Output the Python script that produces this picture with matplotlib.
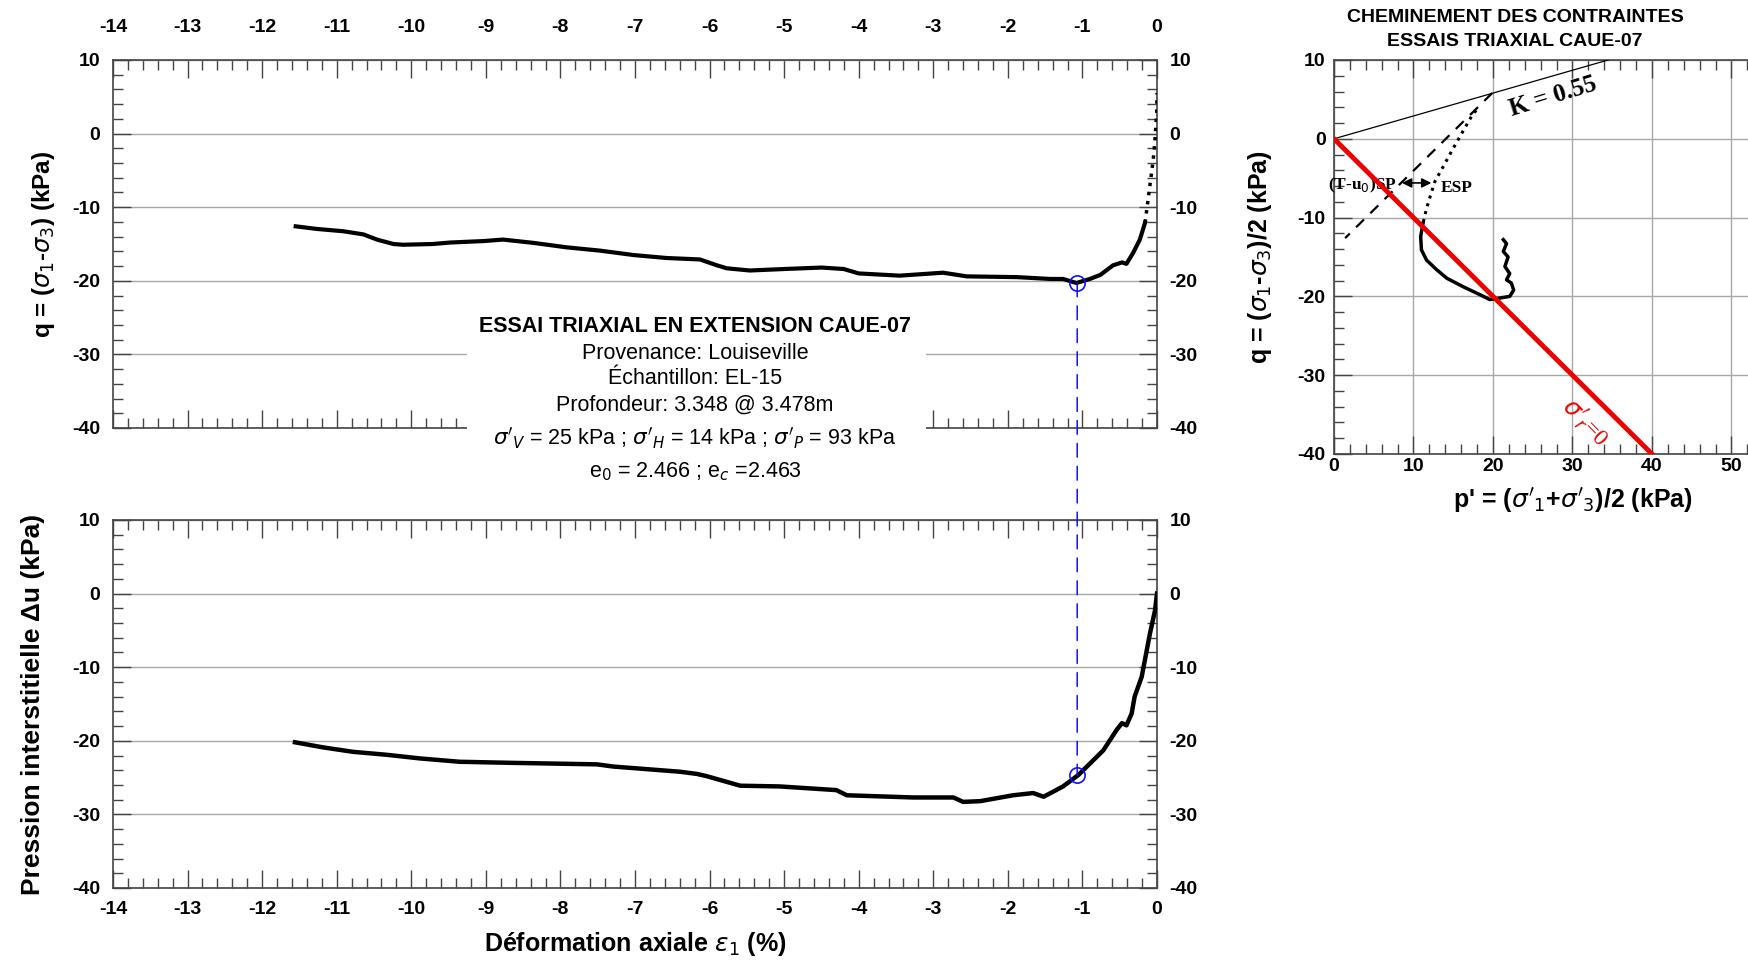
import matplotlib
matplotlib.use("Agg")
import matplotlib.pyplot as plt
from matplotlib.ticker import MultipleLocator, FixedLocator
from matplotlib.patches import ConnectionPatch, Rectangle

plt.rcParams["font.family"] = "Liberation Sans"
plt.rcParams["axes.unicode_minus"] = False

# essai triaxial - deviateur vs deformation
strain_q = [-11.55, -11.27, -10.91, -10.64, -10.46, -10.24, -10.11, -9.71, -9.48, -9.03,
            -8.77, -8.36, -7.92, -7.47, -7.02, -6.58, -6.13, -5.9, -5.77, -5.46,
            -5.0, -4.5, -4.2, -4.0, -3.45, -2.87, -2.55, -1.88, -1.43, -1.26,
            -1.08, -0.90, -0.76, -0.59, -0.47, -0.41, -0.32, -0.23, -0.16]
q_vals = [-12.6, -12.95, -13.27, -13.7, -14.4, -15.0, -15.1, -15.0, -14.8, -14.6,
          -14.4, -14.85, -15.45, -15.9, -16.5, -16.9, -17.1, -17.9, -18.3, -18.6,
          -18.4, -18.2, -18.4, -19.0, -19.3, -18.9, -19.4, -19.5, -19.75, -19.75,
          -20.3, -19.75, -19.2, -17.9, -17.5, -17.7, -16.2, -14.4, -12.1]
strain_q_start = [-0.16, -0.12, -0.085, -0.05, -0.027, -0.004, 0.0]
q_start = [-12.1, -9.0, -6.25, -3.5, -0.8, 2.8, 5.5]

# pression interstitielle
strain_u = [-11.56, -11.18, -10.78, -10.33, -9.88, -9.35, -8.63, -7.51, -7.29, -6.40,
            -6.17, -6.04, -5.59, -5.06, -4.30, -4.16, -3.27, -2.73, -2.60, -2.37,
            -1.93, -1.66, -1.52, -1.26, -1.055, -0.72, -0.54, -0.47, -0.41, -0.34,
            -0.30, -0.205, -0.094, -0.027, 0.0]
u_vals = [-20.2, -20.9, -21.5, -21.9, -22.4, -22.85, -23.0, -23.2, -23.5, -24.2,
          -24.5, -24.8, -26.1, -26.2, -26.7, -27.4, -27.7, -27.7, -28.3, -28.2,
          -27.4, -27.1, -27.6, -26.2, -24.65, -21.3, -18.5, -17.6, -17.9, -16.3,
          -14.0, -11.3, -5.4, -2.3, 0.0]

peak_strain = -1.07
peak_q = -20.3
peak_u = -24.7

# cheminement des contraintes
tsp_p = [19.9, 1.4]
tsp_q = [5.8, -12.6]
esp_dot_p = [17.9, 17.5, 16.3, 15.0, 13.75, 12.7, 12.1, 11.6, 11.2]
esp_dot_q = [3.6, 3.2, 1.1, -1.2, -3.5, -5.4, -7.3, -9.0, -10.7]
esp_p = [11.2, 10.9, 11.0, 11.65, 12.9, 14.2, 16.3, 18.4, 19.6, 20.9,
         22.1, 22.6, 22.3, 21.7, 22.1, 21.5, 21.9, 21.3, 21.7, 21.3]
esp_q = [-10.7, -12.4, -14.1, -15.4, -16.6, -17.7, -18.8, -19.8, -20.4, -20.2,
         -20.0, -19.2, -18.3, -17.9, -17.1, -16.2, -15.0, -14.3, -13.3, -12.8]
k0_p = [0, 40]
k0_q = [0, 11.6]
rupt_p = [0, 40]
rupt_q = [0, -40]
p_ticks = [0, 10, 20, 30, 40, 50]

W, H = 1749, 969
fig = plt.figure(figsize=(W / 100, H / 100), dpi=100)


def box(left, top, width, height):
    return [left / W, (H - top - height) / H, width / W, height / H]


def style_axes(ax, xmaj, xmin, ymaj, ymin):
    ax.xaxis.set_major_locator(MultipleLocator(xmaj))
    ax.xaxis.set_minor_locator(MultipleLocator(xmin))
    ax.yaxis.set_major_locator(MultipleLocator(ymaj))
    ax.yaxis.set_minor_locator(MultipleLocator(ymin))
    ax.tick_params(which="both", direction="in", top=True, right=True, width=1.0,
                   color="#444444", labelsize=14)
    ax.tick_params(which="major", length=13)
    ax.tick_params(which="minor", length=7)
    ax.grid(True, axis="y", which="major", color="#a8a8a8", lw=1)
    for s in ax.spines.values():
        s.set_color("#444444")
        s.set_linewidth(1.2)


def bold_ticks(ax):
    for t in ax.xaxis.get_major_ticks() + ax.yaxis.get_major_ticks():
        t.label1.set_fontweight("bold")
        t.label2.set_fontweight("bold")


# haut
ax1 = fig.add_axes(box(113, 60, 1044, 368))
ax1.plot(strain_q, q_vals, color="black", lw=3, zorder=3)
ax1.plot(strain_q_start, q_start, color="black", lw=2.5, ls=":", zorder=3)
ax1.set_xlim(-14, 0)
ax1.set_ylim(-40, 10)
style_axes(ax1, 1, 0.2, 10, 2)
ax1.tick_params(axis="x", which="both", labeltop=True, labelbottom=False, pad=17)
ax1.tick_params(axis="y", which="both", labelright=True, pad=9)
ax1.set_ylabel(r"q = ($\sigma_1$-$\sigma_3$) (kPa)", fontsize=17.5, fontweight="bold", labelpad=11)
ax1.plot(peak_strain, peak_q, "o", mfc="none", mec="#1010ff", ms=11, mew=1.2, zorder=4)
bold_ticks(ax1)

# bas
ax2 = fig.add_axes(box(113, 520, 1044, 368))
ax2.plot(strain_u, u_vals, color="black", lw=3.2, zorder=3)
ax2.set_xlim(-14, 0)
ax2.set_ylim(-40, 10)
style_axes(ax2, 1, 0.2, 10, 2)
ax2.tick_params(axis="x", which="both", pad=9)
ax2.tick_params(axis="y", which="both", labelright=True, pad=9)
ax2.set_ylabel("Pression interstitielle Δu (kPa)", fontsize=19, fontweight="bold", labelpad=20)
ax2.set_xlabel(r"Déformation axiale $\varepsilon_1$ (%)", fontsize=18, fontweight="bold", labelpad=9)
ax2.plot(peak_strain, peak_u, "o", mfc="none", mec="#1010ff", ms=11, mew=1.2, zorder=4)
bold_ticks(ax2)

con = ConnectionPatch(xyA=(peak_strain, peak_q), coordsA=ax1.transData,
                      xyB=(peak_strain, peak_u), coordsB=ax2.transData,
                      color="#1010ff", lw=1.1, linestyle=(0, (9, 6)))
fig.add_artist(con)

# cadre du texte
fig.add_artist(Rectangle((467 / W, (H - 495) / H), 459 / W, 190 / H,
                         transform=fig.transFigure, facecolor="white", edgecolor="none", zorder=5))
cx = 695 / W
fig.text(cx, 1 - 327 / H, "ESSAI TRIAXIAL EN EXTENSION CAUE-07", ha="center", va="center",
         fontsize=15.5, fontweight="bold", zorder=6)
info = ["Provenance: Louiseville", "Échantillon: EL-15", "Profondeur: 3.348 @ 3.478m",
        r"$\sigma'_V$ = 25 kPa ; $\sigma'_H$ = 14 kPa ; $\sigma'_P$ = 93 kPa",
        r"e$_0$ = 2.466 ; e$_c$ =2.463"]
for txt, yy in zip(info, [353, 378, 405, 438, 472]):
    fig.text(cx, 1 - yy / H, txt, ha="center", va="center", fontsize=15.5, zorder=6)

# cheminement
ax3 = fig.add_axes(box(1334, 60, 477, 394))
ax3.set_xlim(0, 60)
ax3.set_ylim(-40, 10)
style_axes(ax3, 10, 2, 10, 2)
ax3.xaxis.set_major_locator(FixedLocator(p_ticks))
ax3.grid(True, axis="both", which="major", color="#a8a8a8", lw=1)
ax3.spines["right"].set_visible(False)
ax3.tick_params(axis="x", which="both", pad=3)
ax3.tick_params(axis="y", which="both", pad=6)
ax3.plot(k0_p, k0_q, color="black", lw=0.9, zorder=3)
ax3.plot(rupt_p, rupt_q, color="#ee0000", lw=3.5, zorder=4)
ax3.plot(tsp_p, tsp_q, color="black", lw=1.6, dashes=(5, 4), zorder=3)
ax3.plot(esp_dot_p, esp_dot_q, color="black", lw=2.2, ls=":", zorder=3)
ax3.plot(esp_p, esp_q, color="black", lw=2.5, zorder=3)
ax3.annotate("", xy=(8.2, -5.6), xytext=(12.6, -5.6),
             arrowprops=dict(arrowstyle="<|-|>", color="black", lw=1.2, mutation_scale=14))
ax3.text(7.9, -5.9, r"(T-u$_0$)SP", ha="right", va="center", fontsize=12.5,
         family="Liberation Serif", fontweight="bold")
ax3.text(13.4, -6.2, "ESP", ha="left", va="center", fontsize=12.5,
         family="Liberation Serif", fontweight="bold")
ax3.text(27.5, 5.4, "K = 0.55", ha="center", va="center", fontsize=18, rotation=17,
         family="Liberation Serif", fontweight="bold")
ax3.text(31.6, -36.0, r"$\sigma'_r$=0", ha="center", va="center", fontsize=17, rotation=-46,
         color="#ee0000", family="Liberation Serif")
ax3.set_ylabel(r"q = ($\sigma_1$-$\sigma_3$)/2 (kPa)", fontsize=18, fontweight="bold", labelpad=17)
ax3.set_xlabel(r"p' = ($\sigma'_1$+$\sigma'_3$)/2 (kPa)", fontsize=18, fontweight="bold")
ax3.xaxis.set_label_coords(0.5, -0.08)
bold_ticks(ax3)
fig.text(1515 / W, 1 - 18 / H, "CHEMINEMENT DES CONTRAINTES", ha="center", va="center",
         fontsize=14, fontweight="bold")
fig.text(1515 / W, 1 - 42 / H, "ESSAIS TRIAXIAL CAUE-07", ha="center", va="center",
         fontsize=14, fontweight="bold")

fig.savefig("out.png", dpi=100)
